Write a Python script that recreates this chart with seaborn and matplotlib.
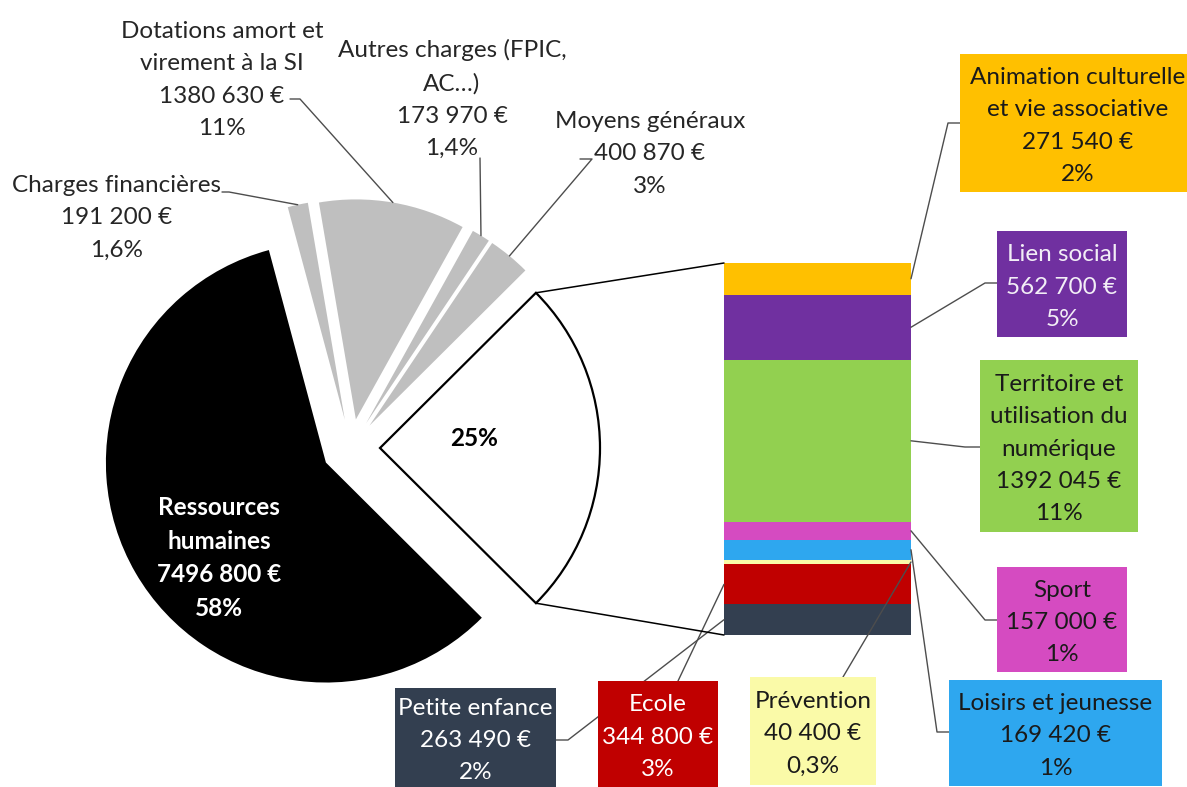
import matplotlib
matplotlib.use("Agg")
import matplotlib.pyplot as plt
import seaborn as sns
from matplotlib.patches import Rectangle, ConnectionPatch
import numpy as np

sns.set_theme(style="white")
plt.rcParams["font.family"] = ["Lato", "DejaVu Sans"]

# --- données -------------------------------------------------------------
# camembert (sens trigo en partant de la part détaillée dans la barre)
pie_names = ["Moyens généraux", "Autres charges (FPIC,\nAC…)",
             "Dotations amort et\nvirement à la SI", "Charges financières",
             "Ressources\nhumaines"]
pie_values = [400870, 173970, 1380630, 191200, 7496800]
pie_pcts = ["3%", "1,4%", "11%", "1,6%", "58%"]
pie_colors = ["#BFBFBF", "#BFBFBF", "#BFBFBF", "#BFBFBF", "#000000"]

# barre empilée (de haut en bas)
bar_names = ["Animation culturelle\net vie associative", "Lien social",
             "Territoire et\nutilisation du\nnumérique", "Sport",
             "Loisirs et jeunesse", "Prévention", "Ecole", "Petite enfance"]
bar_values = [271540, 562700, 1392045, 157000, 169420, 40400, 344800, 263490]
bar_pcts = ["2%", "5%", "11%", "1%", "1%", "0,3%", "3%", "2%"]
bar_colors = ["#FFC000", "#7030A0", "#92D050", "#D54BC1", "#2EA7EF",
              "#FAFAA8", "#C00000", "#333F50"]
bar_text_colors = ["#1a1a1a", "#F2EEF6", "#1a1a1a", "#1a1a1a", "#1a1a1a",
                   "#1a1a1a", "#FFFFFF", "#FFFFFF"]
split_pct = "25%"

W, H = 1187, 787
FS = 17.5
LS = 1.67
DY = 3  # petit décalage vertical des textes multi-lignes


def euros(v):
    parts = f"{v:,}".split(",")
    return "".join(parts[:-1]) + " " + parts[-1] + " €"


def py(y):
    # coordonnées image (haut -> bas) vers données
    return H - y


fig = plt.figure(figsize=(W / 100, H / 100), dpi=100)
ax = fig.add_axes([0, 0, 1, 1])

split_total = sum(bar_values)
values = [split_total] + pie_values
frac0 = split_total / sum(values)
wedges, _ = ax.pie(values, colors=["white"] + pie_colors,
                   startangle=-frac0 * 180, counterclock=True,
                   radius=220, center=(351, py(448)), explode=[29] * 6,
                   wedgeprops=dict(linewidth=0))
wedges[0].set_edgecolor("black")
wedges[0].set_linewidth(1.6)
ax.set_xlim(0, W)
ax.set_ylim(0, H)
ax.set_aspect("equal")
ax.axis("off")

# barre
ax2 = fig.add_axes([724 / W, (H - 635) / H, 187 / W, 372 / H])
bottom = 0
mids = {}
for name, v, c in reversed(list(zip(bar_names, bar_values, bar_colors))):
    ax2.bar(0, v, bottom=bottom, width=1, color=c, linewidth=0)
    mids[name] = bottom + v / 2
    bottom += v
ax2.set_xlim(-0.5, 0.5)
ax2.set_ylim(0, split_total)
ax2.axis("off")

# calque au-dessus pour les traits de rappel et les étiquettes
ax3 = fig.add_axes([0, 0, 1, 1])
ax3.set_xlim(0, W)
ax3.set_ylim(0, H)
ax3.axis("off")
ax3.patch.set_alpha(0)


def arc_mid(w):
    t = np.deg2rad((w.theta1 + w.theta2) / 2)
    return w.center[0] + w.r * np.cos(t), w.center[1] + w.r * np.sin(t)


def corner(w, theta):
    t = np.deg2rad(theta)
    return w.center[0] + w.r * np.cos(t), w.center[1] + w.r * np.sin(t)


def to_ax(pt):
    return ax3.transData.inverted().transform(ax2.transData.transform(pt))


# liaisons camembert -> barre
w0 = wedges[0]
for theta, yb in [(w0.theta2, split_total), (w0.theta1, 0)]:
    con = ConnectionPatch(xyA=corner(w0, theta), coordsA=ax.transData,
                          xyB=(-0.5, yb), coordsB=ax2.transData,
                          color="black", lw=1.1)
    fig.add_artist(con)

ax.text(474, py(438), split_pct, ha="center", va="center", fontsize=FS,
        fontweight="bold", color="black")

# étiquettes du camembert
pie_text_pos = [(650, 151), (452, 96), (222, 77), (117, 215), (219, 557)]
pie_leader = [[(592, 159), (580, 159)], [(480, 158)],
              [(300, 99), (290, 99)], [(229, 192), (222, 192)], None]
lead_kw = dict(color="#4d4d4d", lw=1.0, zorder=1)
for w, name, v, p, (tx, ty), lead in zip(wedges[1:], pie_names, pie_values,
                                         pie_pcts, pie_text_pos, pie_leader):
    txt = f"{name}\n{euros(v)}\n{p}"
    if lead is None:
        ax.text(tx, py(ty + 1), txt, ha="center", va="center", fontsize=FS,
                color="white", fontweight="bold", linespacing=1.56)
        continue
    ax.text(tx, py(ty + DY), txt, ha="center", va="center", fontsize=FS,
            color="#262626", linespacing=LS)
    pts = [arc_mid(w)] + [(x, py(y)) for x, y in lead]
    ax.plot([q[0] for q in pts], [q[1] for q in pts], **lead_kw)

# étiquettes de la barre (boîtes colorées)
boxes = [(960, 54, 1200, 192), (997, 231, 1127, 337), (980, 360, 1138, 532),
         (997, 567, 1127, 672), (949, 680, 1162, 786), (750, 677, 876, 785),
         (598, 681, 718, 787), (395, 688, 556, 787)]
box_leader = [[(948, 123), (960, 123)], [(985, 283), (997, 283)],
              [(965, 447), (980, 447)], [(985, 620), (997, 620)],
              [(937, 732), (949, 732)], [(843, 677)], [(678, 681)],
              [(568, 740), (556, 740)]]
for i, (name, v, p, c, tc, (x0, y0, x1, y1), lead) in enumerate(
        zip(bar_names, bar_values, bar_pcts, bar_colors, bar_text_colors,
            boxes, box_leader)):
    side = -0.5 if i >= 6 else 0.5
    start = to_ax((side, mids[name]))
    pts = [start] + [(x, py(y)) for x, y in lead]
    ax3.plot([q[0] for q in pts], [q[1] for q in pts], **lead_kw)
    ax3.add_patch(Rectangle((x0, py(y1)), x1 - x0, y1 - y0, facecolor=c,
                            edgecolor="none", zorder=3, clip_on=False))
    cx = (x0 + min(x1, 1196)) / 2
    ax3.text(cx, py((y0 + y1) / 2 + DY), f"{name}\n{euros(v)}\n{p}",
             ha="center", va="center", fontsize=FS, color=tc,
             linespacing=LS, zorder=4)

fig.savefig("out.png", dpi=100)
